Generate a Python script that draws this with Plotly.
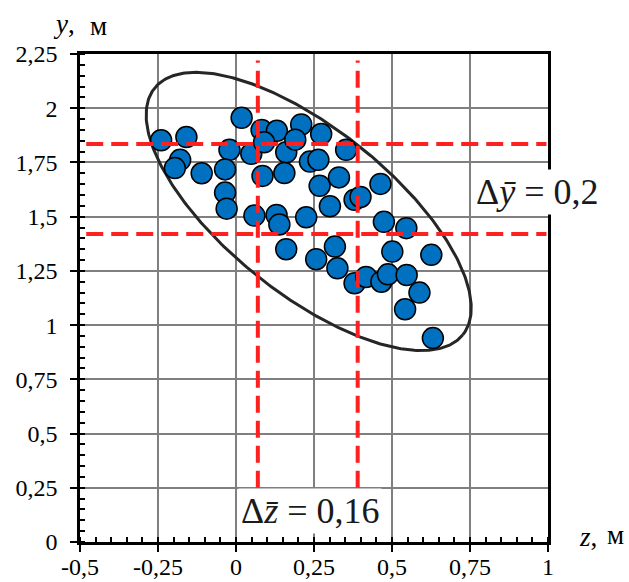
import numpy as np
import plotly.graph_objects as go

# --- data ---
z_vals = [-0.240, -0.159, -0.179, -0.196, -0.110, -0.021, -0.035, -0.035, -0.030, 0.018,
          0.059, 0.049, 0.082, 0.131, 0.090, 0.085, 0.130, 0.139, 0.161, 0.155,
          0.161, 0.209, 0.190, 0.237, 0.264, 0.273, 0.225, 0.257, 0.268, 0.330,
          0.301, 0.317, 0.325, 0.353, 0.380, 0.399, 0.380, 0.417, 0.463, 0.474,
          0.466, 0.487, 0.501, 0.546, 0.547, 0.542, 0.588, 0.626, 0.631]
y_vals = [1.852, 1.867, 1.762, 1.724, 1.700, 1.808, 1.718, 1.611, 1.537, 1.956,
          1.505, 1.790, 1.900, 1.896, 1.843, 1.688, 1.508, 1.464, 1.797, 1.701,
          1.350, 1.925, 1.855, 1.754, 1.762, 1.881, 1.497, 1.304, 1.642, 1.681,
          1.548, 1.362, 1.262, 1.808, 1.578, 1.591, 1.193, 1.222, 1.651, 1.476,
          1.200, 1.234, 1.339, 1.447, 1.231, 1.073, 1.150, 1.324, 0.940]

x_tick_vals = [-0.5, -0.25, 0, 0.25, 0.5, 0.75, 1]
x_tick_text = ["-0,5", "-0,25", "0", "0,25", "0,5", "0,75", "1"]
y_tick_vals = [0, 0.25, 0.5, 0.75, 1, 1.25, 1.5, 1.75, 2, 2.25]
y_tick_text = ["0", "0,25", "0,5", "0,75", "1", "1,25", "1,5", "1,75", "2", "2,25"]

z_bounds = [0.07, 0.39]      # z mean ± Δz
y_bounds = [1.42, 1.835]     # y mean ± Δy
z_label = "Δ<i>z\u0304</i> = 0,16"
y_label = "Δ<i>y\u0304</i> = 0,2"

# dispersion ellipse parameters (centre in data units, semi-axes in screen px)
ell_center = (0.233, 1.524)
ell_a_px, ell_b_px, ell_angle_deg = 197.3, 82.4, 38.6
PX_PER_Z, PX_PER_Y = 312.0, 216.6

t = np.linspace(0, 2 * np.pi, 361)
phi = np.radians(ell_angle_deg)
ell_z = ell_center[0] + (ell_a_px * np.cos(phi) * np.cos(t) - ell_b_px * np.sin(phi) * np.sin(t)) / PX_PER_Z
ell_y = ell_center[1] - (ell_a_px * np.sin(phi) * np.cos(t) + ell_b_px * np.cos(phi) * np.sin(t)) / PX_PER_Y

SERIF = "Liberation Serif, Times New Roman, serif"

fig = go.Figure()
fig.add_trace(go.Scatter(x=ell_z, y=ell_y, mode="lines",
                         line=dict(color="#262626", width=3), hoverinfo="skip"))
fig.add_trace(go.Scatter(x=z_vals, y=y_vals, mode="markers",
                         marker=dict(color="#0070C0", size=21,
                                     line=dict(color="black", width=1.5))))

red = dict(color="#FF2020", width=4, dash="17px,8px")
for zb in z_bounds:
    fig.add_shape(type="line", x0=zb, x1=zb, y0=0.25, y1=2.22, line=red, layer="above")
for yb in y_bounds:
    fig.add_shape(type="line", x0=-0.48, x1=0.995, y0=yb, y1=yb, line=red, layer="above")

fig.add_annotation(x=0.965, y=1.614, text=y_label, showarrow=False,
                   font=dict(family=SERIF, size=36, color="#1a1a1a"),
                   bgcolor="white", xanchor="center", yanchor="middle", borderpad=2)
fig.add_annotation(x=0.236, y=0.142, text=z_label, showarrow=False,
                   font=dict(family=SERIF, size=36, color="#1a1a1a"),
                   bgcolor="white", xanchor="center", yanchor="middle", borderpad=2)

# axis titles
fig.add_annotation(xref="paper", yref="paper", x=(64 - 80) / 468, y=1 + (54 - 24) / 488,
                   text="<i>y</i>,", showarrow=False, xanchor="center", yanchor="middle",
                   font=dict(family=SERIF, size=27, color="black"))
fig.add_annotation(xref="paper", yref="paper", x=(98 - 80) / 468, y=1 + (54 - 26) / 488,
                   text="м", showarrow=False, xanchor="center", yanchor="middle",
                   font=dict(family=SERIF, size=27, color="black"))
fig.add_annotation(xref="paper", yref="paper", x=(588 - 80) / 468, y=-(537 - 542) / 488,
                   text="<i>z</i>,", showarrow=False, xanchor="center", yanchor="middle",
                   font=dict(family=SERIF, size=27, color="black"))
fig.add_annotation(xref="paper", yref="paper", x=(615 - 80) / 468, y=-(535 - 542) / 488,
                   text="м", showarrow=False, xanchor="center", yanchor="middle",
                   font=dict(family=SERIF, size=27, color="black"))

axis_common = dict(showgrid=True, gridcolor="#7f7f7f", gridwidth=1.5, zeroline=False,
                   showline=True, linecolor="black", linewidth=2.5, mirror=True,
                   ticks="outside", ticklen=7, tickwidth=2, tickcolor="black",
                   automargin=False,
                   tickfont=dict(family=SERIF, size=24, color="black"),
                   minor=dict(dtick=0.05, ticks="inside", ticklen=5, tickwidth=1.5,
                              tickcolor="black", showgrid=False))

fig.update_xaxes(range=[-0.5, 1], tickmode="array", tickvals=x_tick_vals,
                 ticktext=x_tick_text, ticklabelstandoff=-6, **axis_common)
fig.update_yaxes(range=[0, 2.25], tickmode="array", tickvals=y_tick_vals,
                 ticktext=y_tick_text, ticklabelstandoff=8, **axis_common)

fig.update_layout(width=629, height=582, margin=dict(l=80, r=81, t=54, b=40),
                  plot_bgcolor="white", paper_bgcolor="white", showlegend=False)

fig.write_html("out.html")
